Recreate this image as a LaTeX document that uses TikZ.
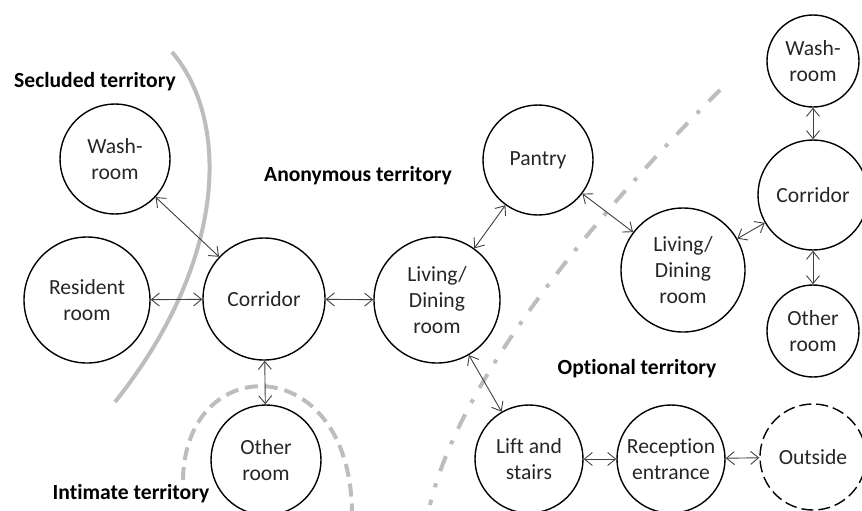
\documentclass[tikz,border=0pt]{standalone}
\usepackage{fontspec}
\setmainfont[Ligatures=NoCommon]{Carlito}
\usetikzlibrary{arrows.meta}
\definecolor{ink}{HTML}{262626}
\definecolor{linkgrey}{HTML}{404040}
\definecolor{zone}{HTML}{BDBDBD}
\tikzset{
  font=\fontsize{10.8}{13}\selectfont,
  every node/.append style={text=ink},
  room/.style={
    circle,
    draw=black,
    line width=0.7pt,
    minimum size=#1,
    inner sep=0pt,
    align=center,
  },
  room/.default=55pt,
  outdoor/.style={room=#1, dash pattern=on 6pt off 2.5pt},
  territory/.style={font=\fontsize{10.8}{13}\selectfont\bfseries, text=black},
  link/.style={
    draw=linkgrey,
    line width=0.45pt,
    {Straight Barb[length=4pt,width=6.5pt]}-{Straight Barb[length=4pt,width=6.5pt]},
  },
  edgezone/.style={draw=zone, line width=2pt},
}

\begin{document}
\begin{tikzpicture}[x=0.5pt,y=-0.5pt]
  \useasboundingbox (0,0) rectangle (862,510);
  \clip (0,0) rectangle (862,510);

  % territory boundaries
  \draw[edgezone] (172,52) .. controls (230,120) and (228,260) .. (115,402);
  \draw[edgezone, dash pattern=on 6.5pt off 3.5pt] (183,480) .. controls (185,350) and (350,350) .. (352,512);
  \draw[edgezone, dash pattern=on 8pt off 6.5pt on 2pt off 6.5pt] (720,90) .. controls (590,220) and (460,380) .. (430,505);

  % rooms
  \node[room=55pt] (washL) at (115,159) {Wash-\\room};
  \node[room=63pt] (resident) at (87,300) {Resident\\room};
  \node[room=61pt] (corL) at (264,299) {Corridor};
  \node[room=55pt] (otherL) at (266,460) {Other\\room};
  \node[room=63pt] (livL) at (437,300) {Living/\\Dining\\room};
  \node[room=55pt] (pantry) at (538,160) {Pantry};
  \node[room=62pt] (livR) at (683,270) {Living/\\Dining\\room};
  \node[room=55pt] (corR) at (813,195) {Corridor};
  \node[room=46pt] (washR) at (813,61) {Wash-\\room};
  \node[room=46pt] (otherR) at (813,331) {Other\\room};
  \node[room=54pt] (lift) at (529,459) {Lift and\\stairs};
  \node[room=54pt] (reception) at (671,459) {Reception\\entrance};
  \node[outdoor=53pt] (outside) at (813,457) {Outside};

  % territory names
  \node[territory] (secluded) at (95,82) {Secluded territory};
  \node[territory] (anonymous) at (358,176) {Anonymous territory};
  \node[territory] (intimate) at (131,494) {Intimate territory};
  \node[territory] (optional) at (637,369) {Optional territory};

  % connections
  \foreach \a/\b in {washL/corL, resident/corL, corL/livL, corL/otherL,
    livL/pantry, pantry/livR, livR/corR, corR/washR, corR/otherR,
    livL/lift, lift/reception, reception/outside} {
    \draw[link] (\a) -- (\b);
  }
\end{tikzpicture}
\end{document}
